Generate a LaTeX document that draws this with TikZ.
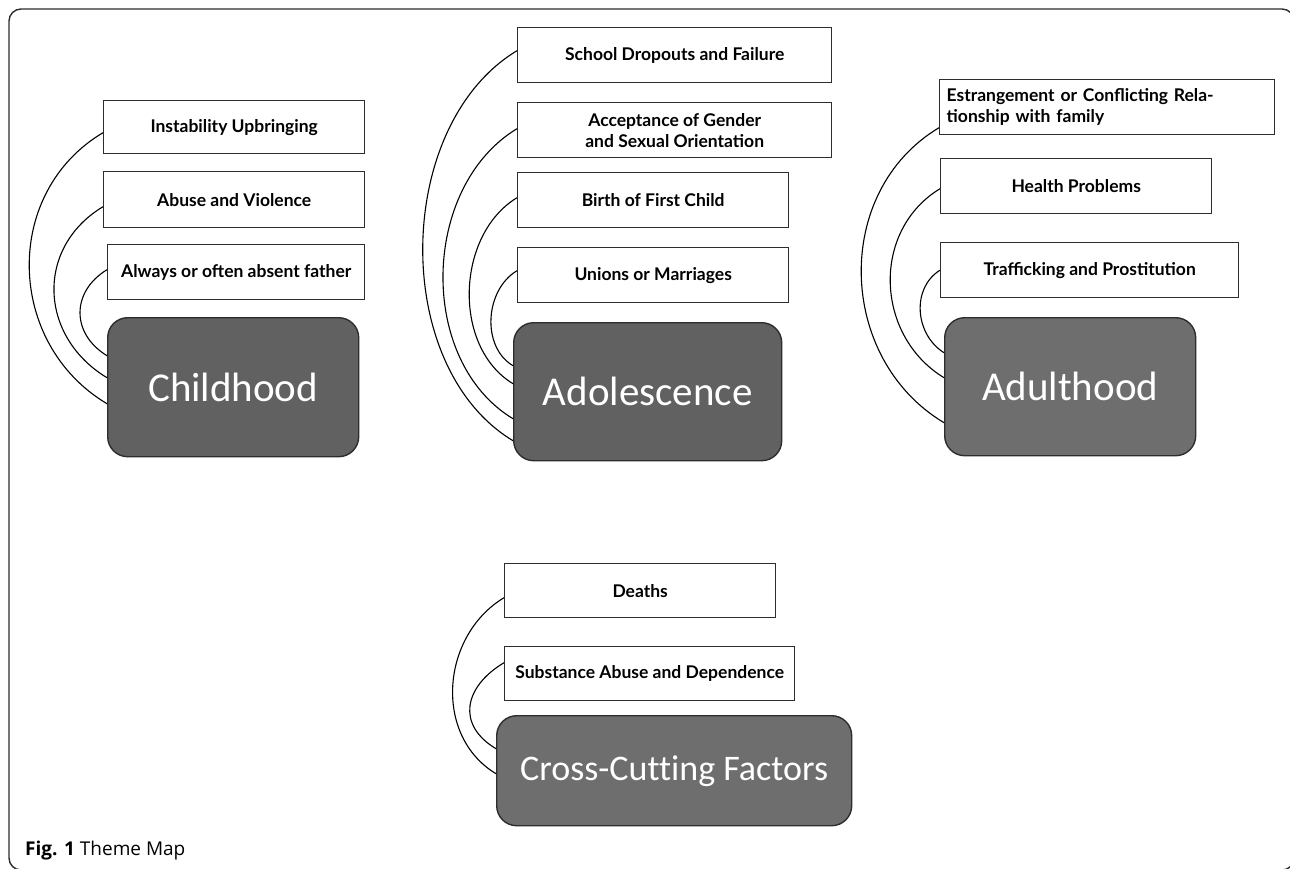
\documentclass[tikz,border=0pt]{standalone}
\usepackage{fontspec}
\setmainfont{Lato}
\newfontfamily\stagefont[Ligatures=NoCommon]{Carlito}
\newfontfamily\capfont{Open Sans}
\usepackage{tikz}

\definecolor{stagegray}{RGB}{96,97,96}
\definecolor{edgegray}{RGB}{45,45,45}

\begin{document}
\begin{tikzpicture}[
  x=1pt, y=-1pt,
  itembox/.style={
    draw=edgegray,
    line width=1.4pt,
    fill=white,
    rectangle,
    anchor=north west,
    minimum height=#1,
    inner sep=4pt,
    font=\fontsize{17.5}{21}\selectfont\bfseries,
    align=center
    },
  itembox/.default=55pt,
  stagebox/.style={
    draw=edgegray,
    line width=1.4pt,
    fill=stagegray,
    rounded corners=20pt,
    anchor=north west,
    text=white,
    font=\stagefont\fontsize{41}{48}\selectfont
    },
  link/.style={black, line width=1.1pt}
]

\useasboundingbox (0,0) rectangle (1290,868);
\draw[edgegray, line width=1.4pt, rounded corners=12pt] (9,9) rectangle (1294,870);

% childhood
\node[itembox=53pt, minimum width=261pt] (ins) at (103,100) {Instability Upbringing};
\node[itembox=56pt, minimum width=261pt] (abu) at (103,171) {Abuse and Violence};
\node[itembox, minimum width=257pt] (alw) at (107,244) {Always or often absent father};
\node[stagebox, minimum width=251pt, minimum height=139pt] (cld) at (107,317) {Childhood};

\draw[link] ([yshift=-5.5pt]ins.west) .. controls +(-101,60) and +(-101,-60) .. ([yshift=-16.5pt]cld.west);
\draw[link] ([yshift=-7pt]abu.west) .. controls +(-68,41) and +(-68,-41) .. ([yshift=9.5pt]cld.west);
\draw[link] ([yshift=2.5pt]alw.west) .. controls +(-36,22) and +(-36,-22) .. ([yshift=31.5pt]cld.west);

% adolescence
\node[itembox, minimum width=314pt] (sch) at (517,27) {School Dropouts and Failure};
\node[itembox, minimum width=314pt] (acc) at (517,102) {Acceptance of Gender\\and Sexual Orientation};
\node[itembox, minimum width=271pt] (bir) at (517,172) {Birth of First Child};
\node[itembox, minimum width=271pt] (uni) at (517,247) {Unions or Marriages};
\node[stagebox, minimum width=268pt, minimum height=138pt] (ado) at (513,322) {Adolescence};

\draw[link] ([yshift=4.5pt]sch.west) .. controls +(-123,74) and +(-123,-74) .. ([yshift=-49pt]ado.west);
\draw[link] ([yshift=1.5pt]acc.west) .. controls +(-96,58) and +(-96,-58) .. ([yshift=-27pt]ado.west);
\draw[link] ([yshift=2.5pt]bir.west) .. controls +(-61,37) and +(-61,-37) .. ([yshift=8pt]ado.west);
\draw[link] ([yshift=4.5pt]uni.west) .. controls +(-32,19) and +(-32,-19) .. ([yshift=26pt]ado.west);

% adulthood
\node[itembox, minimum width=335pt, text width=321pt, inner sep=7pt, align=left] (est) at (939,79)
  {Estrangement or Conflicting Rela-\\tionship with family};
\node[itembox, minimum width=271pt] (hea) at (940,158) {Health Problems};
\node[itembox, minimum width=298pt] (tra) at (940,242) {Trafficking and Prostitution};
\node[stagebox, minimum width=251pt, minimum height=138pt, fill=stagegray!92!white] (adu) at (944,317) {Adulthood};

\draw[link] ([yshift=-20.5pt]est.west) .. controls +(-107,64) and +(-107,-64) .. ([yshift=-36pt]adu.west);
\draw[link] ([yshift=-2.5pt]hea.west) .. controls +(-69,42) and +(-69,-42) .. ([yshift=9pt]adu.west);
\draw[link] (tra.west) .. controls +(-29,18) and +(-29,-18) .. ([yshift=34pt]adu.west);

% cross-cutting
\node[itembox=54pt, minimum width=271pt] (dea) at (504,563) {Deaths};
\node[itembox=54pt, minimum width=290pt] (sub) at (504,646) {Substance Abuse and Dependence};
\node[stagebox, minimum width=355pt, minimum height=110pt, fill=stagegray!92!white,
  font=\stagefont\fontsize{36}{42}\selectfont] (crs) at (496,715) {Cross-Cutting Factors};

\draw[link] ([yshift=-7pt]dea.west) .. controls +(-63,38) and +(-63,-38) .. ([yshift=-3pt]crs.west);
\draw[link] ([yshift=11pt]sub.west) .. controls +(-40,24) and +(-40,-24) .. ([yshift=22pt]crs.west);

\node[anchor=west, inner sep=0pt, font=\capfont\fontsize{19}{22}\selectfont] (cap) at (25,851)
  {\textbf{Fig. 1} Theme Map};

\end{tikzpicture}
\end{document}
